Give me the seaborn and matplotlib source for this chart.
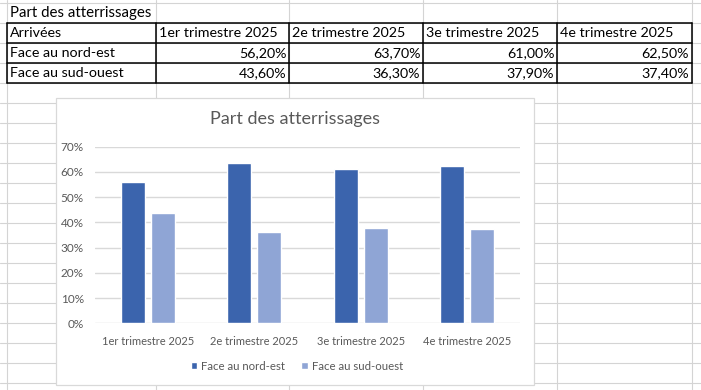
import matplotlib
matplotlib.use("Agg")
import matplotlib.pyplot as plt
import seaborn as sns
import pandas as pd
from matplotlib.patches import Rectangle

# data read from the sheet
title = "Part des atterrissages"
row_header = "Arrivées"
quarters = ["1er trimestre 2025", "2e trimestre 2025", "3e trimestre 2025", "4e trimestre 2025"]
series = ["Face au nord-est", "Face au sud-ouest"]
nord_est = [56.2, 63.7, 61.0, 62.5]
sud_ouest = [43.6, 36.3, 37.9, 37.4]
y_ticks = [0, 10, 20, 30, 40, 50, 60, 70]

colors = ["#3B64AD", "#8FA5D5"]
grey_text = "#595959"
grid_grey = "#D9D9D9"
sheet_grey = "#D4D4D4"

sns.set_theme(style="white")
plt.rcParams["font.family"] = ["Lato", "DejaVu Sans"]

df = pd.DataFrame({
    "trimestre": quarters * 2,
    "serie": [series[0]] * len(quarters) + [series[1]] * len(quarters),
    "part": nord_est + sud_ouest,
})

W, H = 701, 390
fig = plt.figure(figsize=(W / 100, H / 100), dpi=100)

# spreadsheet background, pixel coordinates
bg = fig.add_axes([0, 0, 1, 1])
bg.set_xlim(0, W)
bg.set_ylim(H, 0)
bg.axis("off")

col_x = [7, 155.7, 289.3, 423.3, 557.3, 691.7]
row_y = [3.3 + 20 * k for k in range(20)]
for x in col_x:
    bg.plot([x, x], [0, H], color=sheet_grey, lw=0.8, zorder=1)
for y in row_y:
    bg.plot([0, W], [y, y], color=sheet_grey, lw=0.8, zorder=1)

# table borders
t_top, t_bot = row_y[1], row_y[4]
for y in row_y[1:5]:
    bg.plot([col_x[0], col_x[-1]], [y, y], color="black", lw=1.1, zorder=2)
for x in col_x:
    bg.plot([x, x], [t_top, t_bot], color="black", lw=1.1, zorder=2)

fs = 10.3
bg.text(col_x[0] + 3, (row_y[0] + row_y[1]) / 2, title, va="center", ha="left", fontsize=10.8, color="black")
bg.text(col_x[0] + 3, (row_y[1] + row_y[2]) / 2, row_header, va="center", ha="left", fontsize=fs, color="black")
for i, q in enumerate(quarters):
    bg.text(col_x[i + 1] + 3, (row_y[1] + row_y[2]) / 2, q, va="center", ha="left", fontsize=fs, color="black")

table_rows = [nord_est, sud_ouest]
for r, (name, vals) in enumerate(zip(series, table_rows)):
    yc = (row_y[2 + r] + row_y[3 + r]) / 2
    bg.text(col_x[0] + 3, yc, name, va="center", ha="left", fontsize=fs, color="black")
    for i, v in enumerate(vals):
        bg.text(col_x[i + 2] - 3, yc, f"{v:.2f}".replace(".", ",") + "%",
                va="center", ha="right", fontsize=fs, color="black")

# chart area
bg.add_patch(Rectangle((56, 98), 478, 287, facecolor="white", edgecolor=grid_grey, lw=0.9, zorder=3))

ax = fig.add_axes([95 / W, 1 - 323.3 / H, 425 / W, 176.6 / H])
ax.patch.set_alpha(0)
sns.barplot(data=df, x="trimestre", y="part", hue="serie", palette=colors,
            width=0.565, gap=0.2, saturation=1, ax=ax)

ax.set_ylim(0, 70)
ax.set_yticks(y_ticks)
ax.set_yticklabels([f"{t}%" for t in y_ticks])
ax.yaxis.grid(True, color=grid_grey, lw=1)
ax.set_axisbelow(True)
for s in ax.spines.values():
    s.set_visible(False)
ax.set_xlabel("")
ax.set_ylabel("")
ax.tick_params(axis="y", length=0, pad=8, labelsize=8.5, labelcolor=grey_text)
ax.tick_params(axis="x", length=0, pad=9, labelsize=8, labelcolor=grey_text)

sns.move_legend(ax, "center", bbox_to_anchor=(297 / W, 1 - 366 / H), bbox_transform=fig.transFigure,
                ncol=2, frameon=False, title=None, handlelength=0.6, handleheight=0.6,
                handletextpad=0.35, columnspacing=1.4, fontsize=8.2, labelcolor=grey_text)

fig.text(295 / W, 1 - 119 / H, title, ha="center", va="center", fontsize=13,
         color=grey_text, fontweight="normal")

fig.savefig("out.png", dpi=100)
